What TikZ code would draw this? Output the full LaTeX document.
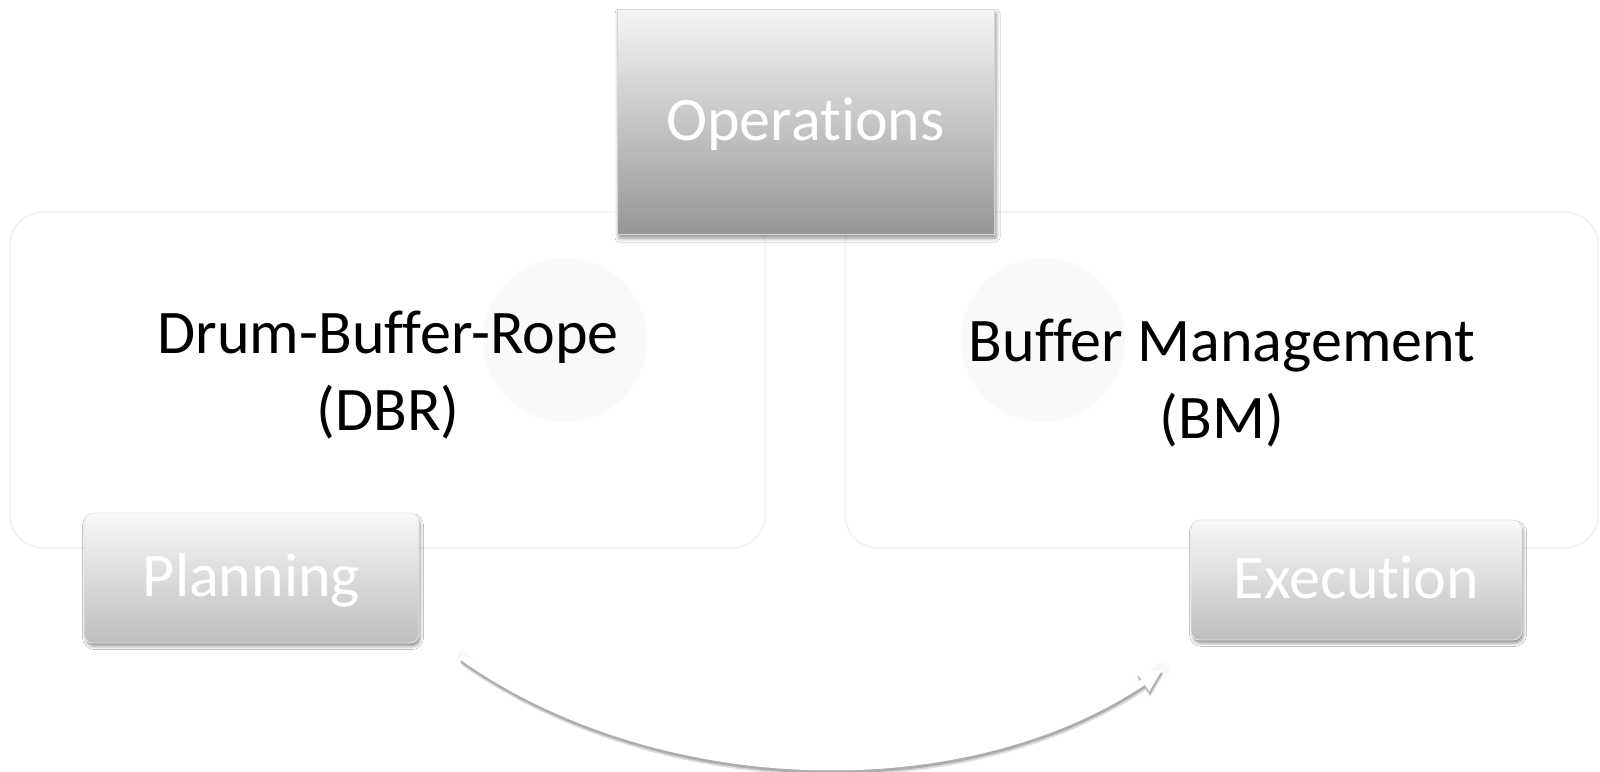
\documentclass[tikz,border=0pt]{standalone}
\usepackage{fontspec}
\setmainfont{Carlito}[Ligatures={NoCommon}]
\usetikzlibrary{shadows.blur, arrows.meta}

\definecolor{opsTop}{HTML}{F5F5F5}
\definecolor{opsBot}{HTML}{969696}
\definecolor{tabTop}{HTML}{F8F8F8}
\definecolor{tabBot}{HTML}{BEBEBE}
\definecolor{panelEdge}{HTML}{F1F1F1}

\tikzset{
  bigfont/.style={font=\fontsize{62}{74}\selectfont},
  panel/.style={draw=panelEdge, line width=1.5pt, fill=white,
    rounded corners=33pt, inner sep=0pt},
  halo/.style={circle, fill=black, fill opacity=0.018, draw=none,
    minimum size=164pt, inner sep=0pt},
  caption/.style={bigfont, anchor=base, inner sep=0pt, text=black},
  headbox/.style={bigfont, draw=black!16, line width=0.8pt,
    top color=opsTop, bottom color=opsBot, text=white, inner sep=0pt,
    text height=37pt, text depth=0pt,
    blur shadow={shadow xshift=2pt, shadow yshift=-4pt,
      shadow blur radius=4pt, shadow opacity=45}},
  tabbox/.style={bigfont, draw=black!10, line width=0.8pt, rounded corners=9pt,
    top color=tabTop, bottom color=tabBot, text=white, inner sep=0pt,
    text height=37pt, text depth=0pt,
    blur shadow={shadow xshift=1.5pt, shadow yshift=-3.5pt,
      shadow blur radius=3pt, shadow opacity=40}},
  flowtip/.style={-{Triangle[length=24pt,width=20pt]}},
  flowhalo/.style={line width=12pt, draw=black!3, line cap=round},
  flowshade/.style={flowtip, line width=6pt, line cap=round},
  flowbody/.style={flowtip, line width=6pt, draw=white, fill=white, line cap=round},
}

\begin{document}
\begin{tikzpicture}[x=1pt, y=1pt]
  \useasboundingbox (0,0) rectangle (1600,-771);
  \fill[white] (0,0) rectangle (1600,-771);

  % two large rounded panels
  \node[panel, minimum width=755pt, minimum height=336pt] (dbrPanel) at (387.5,-380) {};
  \node[panel, minimum width=753pt, minimum height=336pt] (bmPanel) at (1221.5,-380) {};

  % faint discs behind the panel titles
  \node[halo] (dbrHalo) at (565,-340) {};
  \node[halo] (bmHalo) at (1043,-340) {};

  % panel titles
  \node[caption] (dbrA) at (388,-353) {Drum-Buffer-Rope};
  \node[caption] (dbrB) at (388,-430) {(DBR)};
  \node[caption] (bmA) at (1222,-361) {Buffer Management};
  \node[caption] (bmB) at (1222,-438) {(BM)};

  % header box
  \node[headbox, minimum width=377pt, minimum height=225pt] (ops) at (805.5,-121.5) {Operations};

  % phase tabs
  \node[tabbox, minimum width=335pt, minimum height=130pt] (plan) at (251.5,-578) {Planning};
  \node[tabbox, minimum width=331pt, minimum height=120pt] (exec) at (1356.5,-580) {Execution};

  % curved arrow from planning to execution
  \coordinate (arrS) at (463,-658);
  \coordinate (arrE) at (1163,-669);
  \draw[flowhalo] (arrS) .. controls (658,-795) and (963,-804) .. (arrE);
  \draw[flowshade, draw=black!14, fill=black!14, transform canvas={xshift=1pt, yshift=-5pt}]
    (arrS) .. controls (658,-795) and (963,-804) .. (arrE);
  \draw[flowshade, draw=black!32, fill=black!32, transform canvas={xshift=0.5pt, yshift=-3pt}]
    (arrS) .. controls (658,-795) and (963,-804) .. (arrE);
  \draw[flowbody] (arrS) .. controls (658,-795) and (963,-804) .. (arrE);
\end{tikzpicture}
\end{document}
